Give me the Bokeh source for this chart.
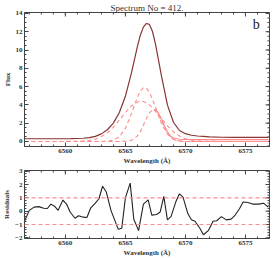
import math
from bokeh.plotting import figure
from bokeh.models import Range1d, LinearAxis, Label, Span, FixedTicker
from bokeh.layouts import column
from bokeh.embed import file_html
from bokeh.resources import INLINE

# ---- data ----
wl = [6556.6, 6557.5, 6558.5, 6559.5, 6560.5, 6561.5, 6562.0, 6562.5, 6563.0, 6563.5,
      6564.0, 6564.5, 6565.0, 6565.5, 6566.0, 6566.25, 6566.5, 6566.75, 6567.0, 6567.25,
      6567.5, 6568.0, 6568.5, 6569.0, 6569.5, 6570.0, 6570.5, 6571.0, 6571.5, 6572.0,
      6573.0, 6574.0, 6575.0, 6576.0, 6576.9]
flux = [0.30, 0.30, 0.30, 0.30, 0.31, 0.35, 0.42, 0.56, 0.83, 1.28,
        2.01, 3.16, 4.94, 7.47, 10.36, 11.65, 12.50, 12.90, 12.80, 12.05,
        10.70, 7.20, 4.00, 2.10, 1.20, 0.85, 0.68, 0.60, 0.55, 0.50,
        0.46, 0.45, 0.44, 0.44, 0.44]
comp_narrow = [0, 0, 0, 0, 0, 0, 0, 0, 0.00, 0.03,
               0.14, 0.51, 1.43, 3.02, 4.83, 5.51, 5.87, 5.83, 5.40, 4.67,
               3.77, 1.99, 0.80, 0.24, 0.06, 0.01, 0, 0, 0, 0,
               0, 0, 0, 0, 0]
comp_broad = [0, 0, 0, 0, 0.01, 0.05, 0.12, 0.26, 0.53, 0.95,
              1.57, 2.34, 3.16, 3.88, 4.32, 4.40, 4.37, 4.23, 4.00, 3.69,
              3.32, 2.50, 1.71, 1.06, 0.60, 0.30, 0.14, 0.06, 0.02, 0.01,
              0, 0, 0, 0, 0]
comp_red = [0, 0, 0, 0, 0, 0, 0, 0, 0, 0,
            0, 0.00, 0.02, 0.12, 0.60, 1.10, 1.78, 2.53, 3.12, 3.45,
            3.45, 2.27, 0.89, 0.21, 0.03, 0, 0, 0, 0, 0,
            0, 0, 0, 0, 0]
# light solid curve (red wing of the model), drawn from the red peak onward
wing_wl = [6567.5, 6567.75, 6568.0, 6568.25, 6568.5, 6568.75, 6569.0, 6569.5, 6570.0,
           6571.0, 6572.0, 6573.0, 6574.0, 6575.0, 6576.0, 6576.9]
wing_val = [3.55, 3.10, 2.45, 1.70, 1.05, 0.60, 0.38, 0.24, 0.21,
            0.20, 0.20, 0.20, 0.20, 0.20, 0.20, 0.20]

res_wl = [6556.6, 6557.0, 6557.4, 6557.8, 6558.2, 6558.5, 6558.8, 6559.1, 6559.4, 6559.8,
          6560.1, 6560.4, 6560.8, 6561.1, 6561.5, 6561.8, 6562.1, 6562.5, 6562.8, 6563.1,
          6563.4, 6563.8, 6564.2, 6564.4, 6564.7, 6565.0, 6565.4, 6565.7, 6566.1, 6566.5,
          6566.9, 6567.2, 6567.6, 6567.9, 6568.2, 6568.5, 6568.8, 6569.2, 6569.5, 6569.8,
          6570.2, 6570.5, 6570.8, 6571.2, 6571.5, 6571.9, 6572.3, 6572.6, 6573.0, 6573.4,
          6573.8, 6574.1, 6574.5, 6574.8, 6575.2, 6575.6, 6576.1, 6576.5, 6576.9]
res_val = [-0.76, 0.06, 0.30, 0.34, 0.22, 0.20, 0.53, 0.37, 0.06, 0.83,
           0.53, -0.06, -0.53, -0.34, -0.45, -0.48, 0.22, 0.60, 0.93, 1.87,
           1.46, 0.06, -0.88, -1.35, -1.28, 1.00, 2.10, -0.60, -1.46, 0.53,
           0.85, -0.30, -0.25, -0.06, 1.11, -0.65, -0.41, 0.70, 1.30, 1.05,
           -0.18, -0.65, -0.76, -1.28, -1.77, -1.46, -0.76, -0.72, -0.41, -0.65,
           -0.60, -0.34, 0.18, 0.69, 0.65, 0.53, 0.53, 0.60, 0.30]
res_limits = [-1.0, 1.0]

x_ticks = [6560, 6565, 6570, 6575]
flux_ticks = [0, 2, 4, 6, 8, 10, 12, 14]
res_ticks = [-2, -1, 0, 1, 2, 3]
title_text = "Spectrum No = 412."
panel_tag = "b"

# ---- styling ----
FONT = "Liberation Serif"
DARK = "#8a3434"
PINK = "#ff8c8c"
AXC = "#444444"
XMIN, XMAX = 6556.6, 6577.0

x_minor = [float(v) for v in range(6557, 6578)]
flux_minor = [v / 2.0 for v in range(-1, 29)]
res_minor = [v / 5.0 for v in range(-10, 16)]


def style_axis(ax, ticks, minor):
    ax.ticker = FixedTicker(ticks=ticks, minor_ticks=minor)
    ax.major_tick_in = 4
    ax.major_tick_out = 0
    ax.minor_tick_in = 2
    ax.minor_tick_out = 0
    ax.axis_line_color = AXC
    ax.major_tick_line_color = AXC
    ax.minor_tick_line_color = AXC
    ax.major_label_text_font = FONT
    ax.major_label_text_font_style = "bold"
    ax.major_label_text_color = "#333333"
    ax.major_label_text_font_size = "7px"
    ax.major_label_standoff = 2
    ax.axis_label_text_font = FONT
    ax.axis_label_text_font_style = "bold"
    ax.axis_label_text_font_size = "7px"
    ax.axis_label_text_color = "#333333"
    ax.axis_label_standoff = 1


def mirror_ticks(p, ymin, ymax, xt, xm, yt, ym):
    # tick marks on the top and right edges (inward), no labels
    kw = dict(length_units="screen", line_color=AXC, line_width=1)
    p.ray(x=xt, y=[ymax] * len(xt), length=4, angle=-math.pi / 2, **kw)
    p.ray(x=xm, y=[ymax] * len(xm), length=2, angle=-math.pi / 2, **kw)
    p.ray(x=[XMAX] * len(yt), y=yt, length=4, angle=math.pi, **kw)
    p.ray(x=[XMAX] * len(ym), y=ym, length=2, angle=math.pi, **kw)


def make_fig(ymin, ymax, fh, top_border, ylabel, yt, ym):
    p = figure(frame_width=245, frame_height=fh, x_range=Range1d(XMIN, XMAX),
               y_range=Range1d(ymin, ymax),
               output_backend="svg", toolbar_location=None,
               min_border_left=18, min_border_right=1, min_border_top=top_border,
               min_border_bottom=0, x_axis_location=None, y_axis_location=None)
    p.xgrid.visible = False
    p.ygrid.visible = False
    p.outline_line_color = AXC
    p.outline_line_width = 1
    p.background_fill_color = "white"
    p.border_fill_color = "white"
    bx = LinearAxis(axis_label="Wavelength (\u00c5)")
    style_axis(bx, x_ticks, x_minor)
    p.add_layout(bx, "below")
    ly = LinearAxis(axis_label=ylabel)
    style_axis(ly, yt, ym)
    p.add_layout(ly, "left")
    mirror_ticks(p, ymin, ymax, x_ticks, x_minor, yt, ym)
    return p


# ---- top panel ----
p1 = make_fig(-0.55, 14.1, 134, 0, "Flux", flux_ticks, flux_minor)
p1.title.text = title_text
p1.title.align = "center"
p1.title.text_font = FONT
p1.title.text_font_size = "9px"
p1.title.text_font_style = "normal"
p1.title.text_color = "#333333"
p1.title.standoff = 0
p1.title.offset = 0

dash = "4 3"
p1.line(wl, comp_broad, line_color=PINK, line_dash=dash, line_width=1.1)
p1.line(wl, comp_narrow, line_color=PINK, line_dash=dash, line_width=1.1)
p1.line(wl, comp_red, line_color=PINK, line_dash=dash, line_width=1.1)
p1.line(wing_wl, wing_val, line_color=PINK, line_width=1.1)
p1.line(wl, flux, line_color=DARK, line_width=1.2)
p1.add_layout(Label(x=6575.9, y=12.8, text=panel_tag, text_font=FONT,
                    text_font_size="14px", text_align="center",
                    text_baseline="middle", text_color="#222222"))

# ---- bottom panel ----
p2 = make_fig(-2.05, 3.05, 68, 3, "Residuals", res_ticks, res_minor)
for lim in res_limits:
    p2.add_layout(Span(location=lim, dimension="width", line_color=PINK,
                       line_dash=dash, line_width=1.1))
p2.line(res_wl, res_val, line_color="#222222", line_width=1.1)

layout = column(p1, p2, spacing=0)
open("out.html", "w").write(file_html(layout, INLINE))
